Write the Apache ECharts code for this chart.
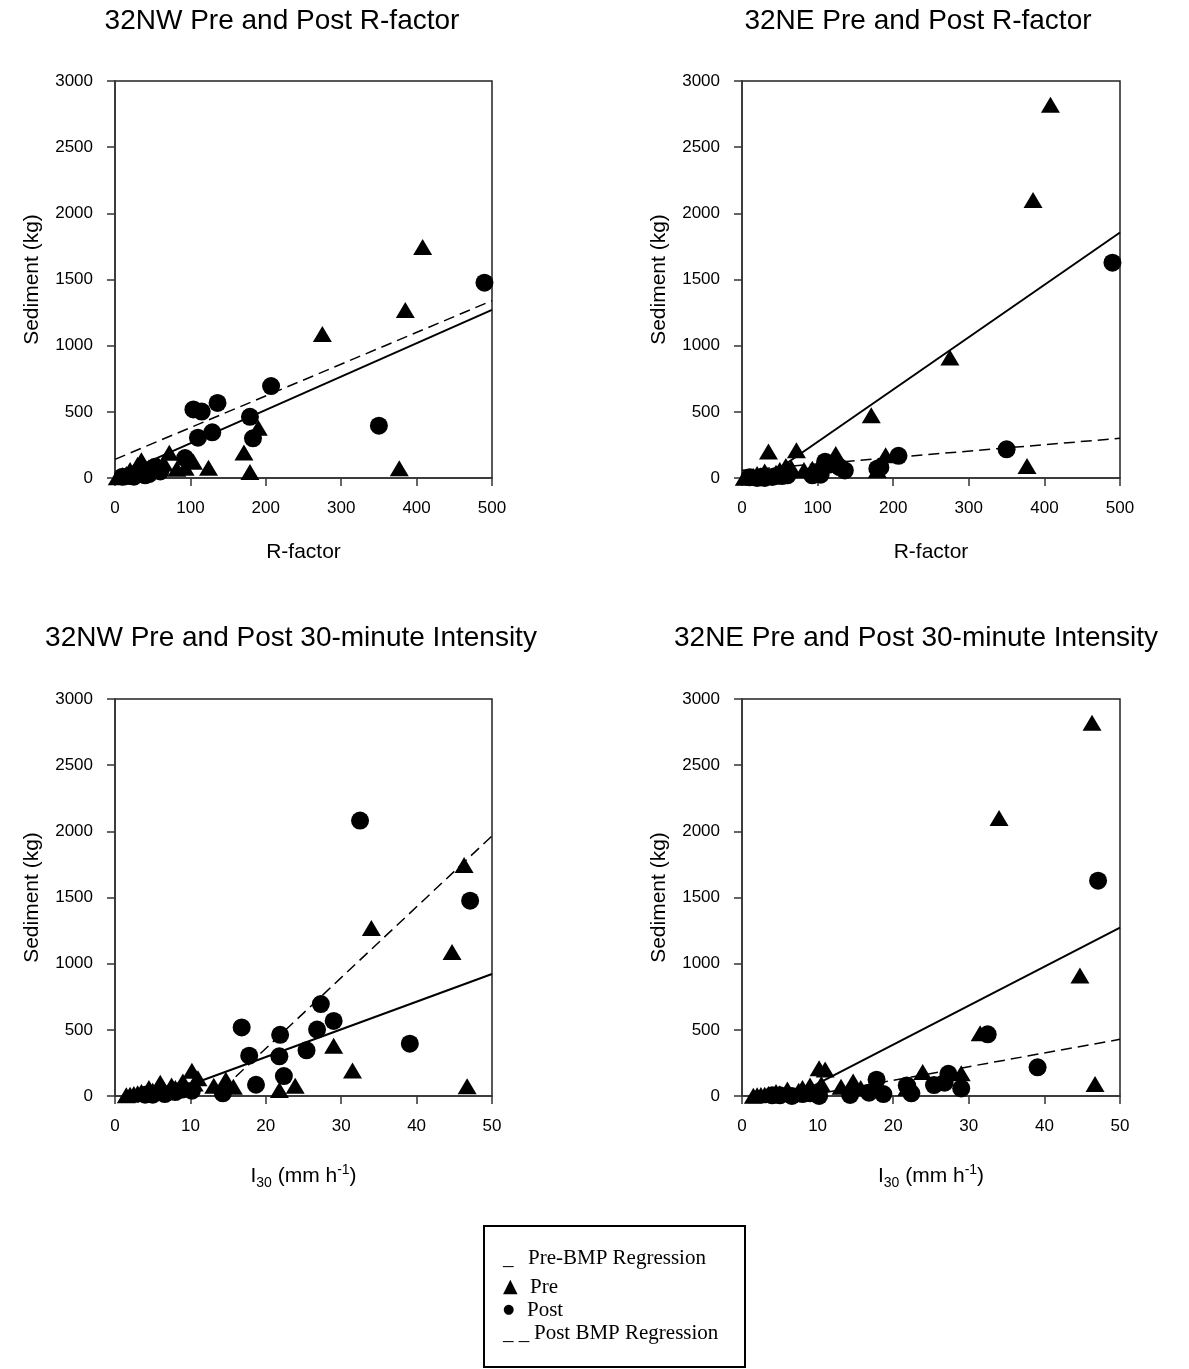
<!DOCTYPE html>
<html>
<head>
<meta charset="utf-8">
<script src="https://cdn.jsdelivr.net/npm/echarts@6/dist/echarts.min.js"></script>
<style>
  html, body { margin: 0; background: #fff; }
  #main { width: 1189px; height: 1369px; }
</style>
</head>
<body>
<div id="main"></div>
<script>
// Pre-BMP storms (triangles): R-factor, I30 (mm/h), sediment at 32NW and 32NE (kg)
var preR   = [408, 385, 275, 377, 190, 171, 124, 179, 72, 35, 104, 93, 65, 50, 45, 30, 25, 20, 15, 10, 6, 3, 58, 82, 12];
var preI30 = [46.3, 34.0, 44.7, 46.7, 29.0, 31.5, 23.9, 21.8, 10.2, 11.0, 14.7, 13.1, 9.0, 8.0, 7.5, 6.0, 5.0, 4.5, 3.5, 3.0, 2.0, 1.5, 10.5, 15.7, 2.5];
var preNW  = [1746, 1270, 1088, 73, 380, 193, 78, 45, 190, 135, 123, 78, 110, 60, 80, 100, 40, 60, 30, 20, 10, 5, 95, 70, 15];
var preNE  = [2820, 2100, 910, 91, 172, 475, 182, 60, 210, 200, 110, 70, 80, 60, 40, 50, 20, 30, 15, 10, 5, 2, 90, 60, 8];

// Post-BMP storms (circles); null R = storm off the R-factor axis
var postR   = [490, 350, 207, 183, 179, 136, 129, 115, 110, 104, 93, 53, null, 40, 30, 20, 10, 60, 45, 25];
var postI30 = [47.1, 39.1, 27.3, 21.8, 21.9, 29.0, 25.4, 26.8, 17.8, 16.8, 22.4, 18.7, 32.5, 14.3, 10.2, 6.6, 5.0, 9.0, 8.0, 4.0];
var postNW  = [1476, 395, 695, 300, 462, 567, 345, 502, 305, 518, 151, 85, 2081, 20, 40, 15, 10, 50, 30, 10];
var postNE  = [1627, 217, 168, 80, 70, 57, 83, 101, 123, 25, 20, 15, 466, 8, 0, 0, 5, 20, 15, 5];

// regression line end points [x, sediment]
var nwRPreFit   = [[0, 10], [500, 1270]];
var nwRPostFit  = [[0, 141], [500, 1340]];
var neRPreFit   = [[31, 0], [500, 1855]];
var neRPostFit  = [[0, 58], [500, 300]];
var nwIPreFit   = [[8, 43], [50, 922]];
var nwIPostFit  = [[16, 145], [50, 1965]];
var neIPreFit   = [[9.5, 78], [50, 1272]];
var neIPostFit  = [[9, 5], [50, 428]];

var titles = [
  '32NW Pre and Post R-factor', '32NE Pre and Post R-factor',
  '32NW Pre and Post 30-minute Intensity', '32NE Pre and Post 30-minute Intensity'
];

function pairs(xs, ys) {
  return xs.map(function (x, i) { return [x, ys[i]]; })
           .filter(function (p) { return p[0] != null; });
}

var sans = 'Liberation Sans, Arial, sans-serif';
var serif = 'Liberation Serif, Times New Roman, serif';

var grids = [
  { left: 115, top: 81, width: 377, height: 397 },
  { left: 742, top: 81, width: 378, height: 397 },
  { left: 115, top: 699, width: 377, height: 397 },
  { left: 742, top: 699, width: 378, height: 397 }
].map(function (g) {
  g.show = true; g.borderColor = '#222'; g.borderWidth = 1.5;
  return g;
});

var axisCommon = {
  axisLine: { show: true, lineStyle: { color: '#333', width: 1.5 } },
  axisTick: { show: true, length: 8, lineStyle: { color: '#333', width: 1.5 } },
  splitLine: { show: false },
  axisLabel: { color: '#000', fontSize: 17, fontFamily: sans }
};

var i30Name = '{a|I}{s|30}{a| (mm h}{p|-1}{a|)}';
var xAxes = [0, 1, 2, 3].map(function (i) {
  var top = i < 2;
  var ax = Object.assign({}, JSON.parse(JSON.stringify(axisCommon)), {
    gridIndex: i, type: 'value', min: 0,
    max: top ? 500 : 50, interval: top ? 100 : 10,
    name: top ? 'R-factor' : i30Name,
    nameLocation: 'middle', nameGap: top ? 64 : 66,
    nameTextStyle: {
      color: '#000', fontSize: 21, fontFamily: sans,
      rich: {
        a: { fontSize: 21, fontFamily: sans, color: '#000' },
        s: { fontSize: 14, fontFamily: sans, color: '#000', padding: [14, 0, 0, 0] },
        p: { fontSize: 14, fontFamily: sans, color: '#000', padding: [0, 0, 12, 0] }
      }
    }
  });
  ax.axisLabel.margin = 22;
  return ax;
});

var yAxes = [0, 1, 2, 3].map(function (i) {
  var ax = Object.assign({}, JSON.parse(JSON.stringify(axisCommon)), {
    gridIndex: i, type: 'value', min: 0, max: 3000, interval: 500,
    name: 'Sediment (kg)', nameLocation: 'middle', nameGap: 72,
    nameTextStyle: { color: '#000', fontSize: 21, fontFamily: sans }
  });
  ax.axisLabel.margin = 22;
  ax.axisLabel.formatter = function (v) { return String(v); };
  return ax;
});

function scatter(i, data, symbol, size) {
  return {
    type: 'scatter', xAxisIndex: i, yAxisIndex: i, data: data,
    symbol: symbol, symbolSize: size, itemStyle: { color: '#000', opacity: 1 }, z: 2
  };
}
function fit(i, data, dashed) {
  return {
    type: 'line', xAxisIndex: i, yAxisIndex: i, data: data, symbol: 'none', z: 3,
    lineStyle: { color: '#000', width: dashed ? 1.5 : 2, type: dashed ? [11, 6] : 'solid' }
  };
}

var series = [
  scatter(0, pairs(preR, preNW), 'triangle', [19, 16]),
  scatter(0, pairs(postR, postNW), 'circle', 18),
  fit(0, nwRPreFit, false), fit(0, nwRPostFit, true),
  scatter(1, pairs(preR, preNE), 'triangle', [19, 16]),
  scatter(1, pairs(postR, postNE), 'circle', 18),
  fit(1, neRPreFit, false), fit(1, neRPostFit, true),
  scatter(2, pairs(preI30, preNW), 'triangle', [19, 16]),
  scatter(2, pairs(postI30, postNW), 'circle', 18),
  fit(2, nwIPreFit, false), fit(2, nwIPostFit, true),
  scatter(3, pairs(preI30, preNE), 'triangle', [19, 16]),
  scatter(3, pairs(postI30, postNE), 'circle', 18),
  fit(3, neIPreFit, false), fit(3, neIPostFit, true)
];

var titlePos = [[282, 21], [918, 21], [291, 638], [916, 638]];
var graphics = titles.map(function (t, i) {
  return {
    type: 'text', x: titlePos[i][0], y: titlePos[i][1],
    style: { text: t, align: 'center', verticalAlign: 'middle', fontSize: 28, fontFamily: sans, fill: '#000' }
  };
});

// legend box
graphics.push({
  type: 'rect', shape: { x: 484, y: 1226, width: 261, height: 141 },
  style: { fill: '#fff', stroke: '#000', lineWidth: 2 }
});
var legendRows = [
  ['_', 503, 'Pre-BMP Regression', 528, 1258, 21, serif],
  ['\u25B2', 503, 'Pre', 530, 1287, 19, 'DejaVu Sans'],
  ['\u25CF', 503, 'Post', 527, 1310, 13, 'DejaVu Sans'],
  ['_ _', 503, 'Post BMP Regression', 534, 1333, 21, serif]
];
legendRows.forEach(function (r) {
  graphics.push({
    type: 'text', x: r[1], y: r[4],
    style: { text: r[0], verticalAlign: 'middle', fontSize: r[5], fontFamily: r[6], fill: '#000' }
  });
  graphics.push({
    type: 'text', x: r[3], y: r[4],
    style: { text: r[2], verticalAlign: 'middle', fontSize: 21, fontFamily: serif, fill: '#000' }
  });
});

var chart = echarts.init(document.getElementById('main'));
chart.setOption({
  animation: false,
  backgroundColor: '#fff',
  grid: grids,
  xAxis: xAxes,
  yAxis: yAxes,
  series: series,
  graphic: graphics
});
</script>
</body>
</html>
